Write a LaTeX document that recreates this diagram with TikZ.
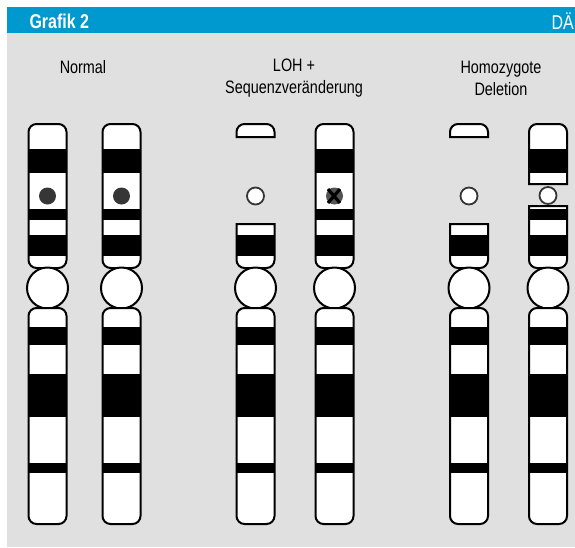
\documentclass[tikz,border=0pt]{standalone}
\usepackage{fontspec}
\setmainfont{Liberation Sans}[FakeStretch=0.8]
\begin{document}
\begin{tikzpicture}[x=1pt,y=-1pt,
  outline/.style={draw=black,line width=2pt},
  band/.style={fill=black},
  label/.style={font=\fontsize{18}{22}\selectfont,align=center,text=black}]
\definecolor{bar}{HTML}{0099CF}
\definecolor{panel}{HTML}{E0E0E0}
\definecolor{dot}{HTML}{363636}
\useasboundingbox (0,0) rectangle (575,547);
\fill[white] (0,0) rectangle (575,547);
\fill[panel] (7,33) rectangle (575,547);
\fill[bar] (7,7) rectangle (575,33);
\node[anchor=west,text=white,font=\fontsize{20}{22}\bfseries\selectfont] (title) at (26,21) {Grafik 2};
\node[anchor=east,text=white,font=\fontsize{20}{22}\selectfont,inner sep=1pt] (logo) at (575,21) {DÄ};

% group headings
\node[label] (hnormal) at (83,67) {Normal};
\node[label] (hloh) at (294,78) {LOH +\\Sequenzveränderung};
\node[label] (hdel) at (501,78) {Homozygote\\Deletion};

% pieces of a chromosome; #1 = centre x
% full upper arm with bands
\newcommand\upperarm[1]{%
  \begin{scope}
    \clip[rounded corners=8pt] (#1-19,124) rectangle (#1+19,268);
    \fill[white] (#1-19,124) rectangle (#1+19,268);
    \fill[band] (#1-19,149) rectangle (#1+19,173);
    \fill[band] (#1-19,208.5) rectangle (#1+19,220);
    \fill[band] (#1-19,235) rectangle (#1+19,256);
  \end{scope}
  \draw[outline,rounded corners=8pt] (#1-19,124) rectangle (#1+19,268);}
% centromere and lower arm
\newcommand\lowerpart[1]{%
  \draw[outline,fill=white] (#1,288) circle[radius=20.5];
  \begin{scope}
    \clip[rounded corners=8pt] (#1-19,308) rectangle (#1+19,524);
    \fill[white] (#1-19,308) rectangle (#1+19,524);
    \fill[band] (#1-19,327) rectangle (#1+19,345);
    \fill[band] (#1-19,374) rectangle (#1+19,417);
    \fill[band] (#1-19,463) rectangle (#1+19,473);
  \end{scope}
  \draw[outline,rounded corners=8pt] (#1-19,308) rectangle (#1+19,524);}
% upper piece: rounded top, flat bottom at #2
\newcommand\toppiece[2]{%
  (#1-19,#2) -- (#1-19,132) arc[start angle=180,end angle=90,radius=8pt]
     -- (#1+11,124) arc[start angle=90,end angle=0,radius=8pt] -- (#1+19,#2) -- cycle}
% lower piece of the upper arm: flat top at #2, rounded bottom
\newcommand\botpiece[2]{%
  (#1-19,#2) -- (#1-19,260) arc[start angle=180,end angle=270,radius=8pt]
     -- (#1+11,268) arc[start angle=270,end angle=360,radius=8pt] -- (#1+19,#2) -- cycle}

% Normal
\foreach \cx in {47.5,121.5}{
  \upperarm{\cx}
  \fill[dot] (\cx,196) circle[radius=8.5];
  \lowerpart{\cx}
}

% LOH + sequence change, homozygous deletion: lost middle segment
\foreach \cx in {255.5,469}{
  \draw[outline,fill=white] \toppiece{\cx}{137};
  \draw[draw=dot,line width=1.8pt,fill=white] (\cx,196) circle[radius=8.5];
  \begin{scope}
    \clip \botpiece{\cx}{224};
    \fill[white] (\cx-19,224) rectangle (\cx+19,268);
    \fill[band] (\cx-19,235) rectangle (\cx+19,256);
  \end{scope}
  \draw[outline] \botpiece{\cx}{224};
  \lowerpart{\cx}
}

% LOH: mutated allele
\upperarm{334.5}
\fill[dot!85] (334.5,196) circle[radius=8.5];
\draw[black,line width=3.2pt] (328,189) -- (340,203) (340,189) -- (328,203);
\lowerpart{334.5}

% homozygous deletion: small deletion around the locus
\begin{scope}
  \clip \toppiece{548}{184};
  \fill[white] (529,124) rectangle (567,184);
  \fill[band] (529,149) rectangle (567,173);
\end{scope}
\draw[outline] \toppiece{548}{184};
\draw[draw=dot,line width=1.8pt,fill=white] (548,195.5) circle[radius=8.5];
\begin{scope}
  \clip \botpiece{548}{206};
  \fill[white] (529,206) rectangle (567,268);
  \fill[band] (529,209) rectangle (567,220);
  \fill[band] (529,235) rectangle (567,256);
\end{scope}
\draw[outline] \botpiece{548}{206};
\lowerpart{548}
\end{tikzpicture}
\end{document}
